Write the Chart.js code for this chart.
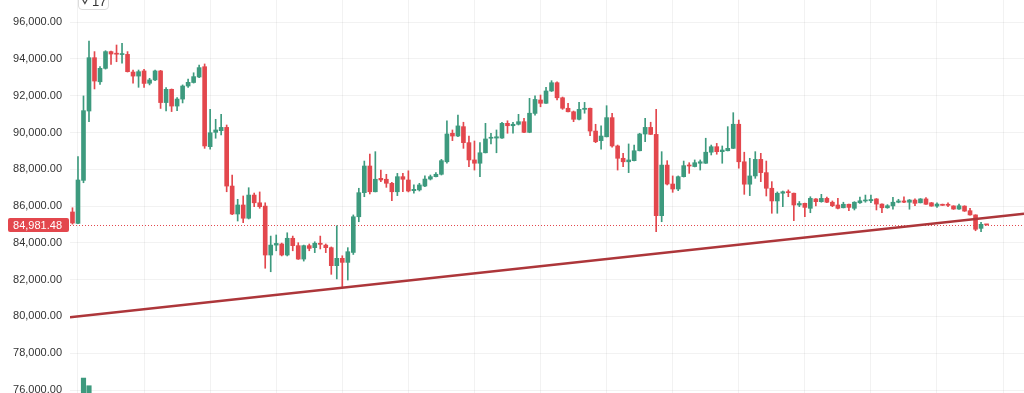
<!DOCTYPE html>
<html>
<head>
<meta charset="utf-8">
<title>Candles</title>
<script src="https://cdn.jsdelivr.net/npm/chart.js@4.4.1/dist/chart.umd.min.js"></script>
<style>
  html, body { margin: 0; padding: 0; background: #fff; }
  #wrap { position: relative; width: 1024px; height: 393px; overflow: hidden; }
  .badge {
    position: absolute; left: 78px; top: -14px; width: 31px; height: 24px;
    box-sizing: border-box; border: 1px solid #dcdcdc; border-radius: 4px; background: #fff;
  }
  .badge svg { position: absolute; left: 2px; top: 10px; }
  .badge span {
    position: absolute; left: 13px; top: 8px; font: 13px "Liberation Sans", Arial, sans-serif;
    line-height: 13px; color: #333;
  }
</style>
</head>
<body>
<div id="wrap">
  <canvas id="candles"></canvas>
  <div class="badge">
    <svg width="8" height="8" viewBox="0 0 8 8"><polyline points="0.8,1 3.9,6.5 7,1" fill="none" stroke="#444" stroke-width="1.2"/></svg>
    <span>17</span>
  </div>
</div>
<script>
// OHLC per candle, oldest first
const open = [
  85680, 85060, 87400, 91170, 94070, 92760, 93490, 94400, 94280, 94240,
  94250, 93290, 93070, 93350, 92680, 92860, 93350, 91630, 92350, 91440,
  91820, 92530, 92720, 93020, 93580, 89230, 90010, 90100, 90280, 87090,
  85570, 86060, 85340, 86600, 86180, 86000, 83340, 83880, 83940, 83340,
  84250, 83850, 83120, 83850, 83740, 83980, 83880, 83740, 82760, 83160,
  82940, 83480, 85420, 86730, 88180, 86780, 87510, 87460, 87240, 86780,
  87600, 87420, 86840, 86880, 87090, 87470, 87600, 87730, 88410, 89960,
  89810, 90320, 89450, 88510, 88330, 88900, 89690, 89700, 89700, 90500,
  90370, 90450, 90590, 90010, 91040, 91770, 91590, 92260, 92710, 91890,
  91320, 91130, 90720, 91260, 91320, 90080, 89560, 89770, 90810, 89270,
  88600, 88410, 88470, 89010, 89920, 90280, 89900, 85480, 88230, 87200,
  86930, 87600, 88230, 88150, 88330, 88330, 88930, 89230, 88960, 89010,
  89140, 90450, 88410, 87190, 87640, 88540, 87820, 86970, 86280, 86700,
  86780, 86700, 86060, 86150, 85880, 86390, 86240, 86420, 86210, 86060,
  85910, 86100, 85880, 86180, 86280, 86290, 86390, 86110, 85910, 86010,
  86210, 86280, 86210, 86330, 86180, 86390, 86180, 86000, 86100, 86100,
  86010, 85840, 86000, 85750, 85520, 84790, 85000
];
const high = [
  85910, 88690, 91990, 94980, 94400, 93580, 94450, 94430, 94760, 94850,
  94400, 93400, 93400, 93440, 92950, 93400, 93380, 92450, 92370, 91900,
  92590, 92910, 93250, 93670, 93730, 91260, 90720, 90990, 90410, 87690,
  86370, 86550, 87000, 86710, 86770, 86180, 84370, 84430, 83990, 84550,
  84370, 84010, 83880, 83940, 84060, 84370, 83940, 83780, 84930, 83300,
  83740, 85520, 86970, 88450, 88830, 88960, 87960, 87730, 87290, 87780,
  87780, 87920, 87150, 87240, 87640, 87690, 87820, 88540, 90630, 90140,
  90950, 90560, 89810, 89540, 89450, 90500, 89960, 90140, 90560, 90640,
  90560, 90990, 90770, 91860, 91990, 92040, 92460, 92820, 92760, 91930,
  91590, 91170, 91640, 91640, 91330, 90450, 90360, 91460, 91050, 89320,
  88870, 89380, 89320, 89960, 90770, 90560, 91260, 88960, 88470, 87640,
  87640, 88450, 88360, 88510, 88510, 89690, 89320, 89410, 89270, 90320,
  91080, 90680, 88930, 88600, 88960, 88870, 88450, 87330, 86770, 86820,
  86880, 86710, 86250, 86170, 86510, 86410, 86640, 86490, 86280, 86420,
  86210, 86110, 86240, 86490, 86600, 86600, 86410, 86120, 86080, 86480,
  86370, 86510, 86360, 86390, 86410, 86460, 86200, 86180, 86110, 86180,
  86020, 86110, 86020, 85880, 85530, 85120, 85010
];
const low = [
  85020, 85050, 87270, 90590, 92370, 92620, 93450, 93710, 93850, 93770,
  93290, 92690, 92460, 92450, 92590, 92820, 91310, 91170, 91140, 91190,
  91610, 92460, 92690, 92990, 89140, 89090, 89690, 89870, 86780, 85540,
  85190, 85100, 85300, 85970, 85880, 82620, 82430, 83570, 83290, 83290,
  83570, 83100, 83010, 83570, 83470, 83670, 83470, 82290, 82040, 81550,
  81980, 83370, 85150, 86510, 86660, 86770, 87330, 87020, 86290, 86570,
  86780, 86770, 86700, 86820, 87050, 87420, 87580, 87690, 88330, 89560,
  89780, 89140, 88140, 87960, 87600, 88890, 89380, 88900, 89680, 89960,
  89960, 90410, 89990, 89990, 90950, 91400, 91580, 92230, 91770, 91260,
  91120, 90590, 90680, 91050, 89830, 89450, 89090, 89760, 89200, 87960,
  88140, 87820, 88450, 89000, 89500, 89890, 84610, 85150, 87150, 86750,
  86840, 87580, 87780, 88130, 87960, 88320, 88780, 88820, 88330, 89000,
  89130, 88060, 86640, 86570, 87510, 87330, 86550, 85610, 85610, 85970,
  86510, 85210, 85970, 85420, 85640, 86010, 86210, 86180, 85970, 85840,
  85900, 85750, 85790, 86150, 86210, 86180, 85790, 85640, 85880, 85830,
  86180, 86190, 85830, 86020, 86170, 86090, 85990, 85930, 86030, 85970,
  85820, 85820, 85710, 85500, 84660, 84610, 84960
];
const close = [
  85080, 87420, 91190, 94070, 92800, 93490, 94400, 94270, 94260, 94270,
  93310, 93070, 93310, 92670, 92860, 93350, 91630, 92350, 91440, 91820,
  92530, 92730, 93040, 93530, 89270, 89990, 90140, 90280, 87090, 85570,
  86060, 85340, 86600, 86180, 85970, 83340, 83880, 83970, 83340, 84250,
  83850, 83120, 83850, 83700, 83980, 83920, 83740, 82760, 83160, 82940,
  83520, 85420, 86730, 88180, 86780, 87460, 87420, 87240, 86780, 87600,
  87460, 86820, 86910, 87150, 87470, 87600, 87730, 88470, 89920, 89810,
  90360, 89450, 88510, 88330, 88900, 89650, 89740, 89770, 90500, 90370,
  90450, 90590, 90010, 91050, 91800, 91590, 92260, 92710, 91890, 91320,
  91130, 90720, 91260, 91320, 90080, 89500, 89810, 90810, 89270, 88600,
  88410, 88510, 89010, 89920, 90280, 89900, 85480, 88230, 87200, 86930,
  87600, 88200, 88180, 88360, 88410, 88930, 89230, 88960, 89050, 89140,
  90450, 88410, 87190, 87640, 88540, 87820, 86970, 86280, 86700, 86780,
  86730, 86060, 86140, 85930, 86420, 86240, 86420, 86210, 86020, 85880,
  86100, 85930, 86210, 86290, 86330, 86360, 86110, 85910, 86020, 86210,
  86280, 86210, 86330, 86150, 86390, 86100, 86000, 86110, 86040, 86040,
  85840, 86020, 85730, 85520, 84740, 85010, 84981.48
];

// volume bars that reach into view (bottom-left)
const volIndex = [2, 3];
const volume = [23800, 21850];

// trend line, drawn from the left edge to the right edge
const trendIndex = [-0.45, 172.8];
const trendPrice = [79950, 85590];

const yTicks = [76000, 78000, 80000, 82000, 84000, 86000, 88000, 90000, 92000, 94000, 96000];
const xGrid = [1, 13, 25, 37, 49, 61, 73, 85, 97, 109, 121, 133, 145, 157, 169];

const GREEN = '#3d9a7e';
const RED = '#e3474d';
const lastClose = close[close.length - 1];
const fmt = new Intl.NumberFormat('en-US', { minimumFractionDigits: 2, maximumFractionDigits: 2 });

const idx = close.map((_, i) => i);
const colors = idx.map(i => close[i] >= open[i] ? GREEN : RED);

const priceLine = {
  id: 'priceLine',
  beforeDatasetsDraw(chart) {
    const { ctx, chartArea } = chart;
    const y = Math.round(chart.scales.y.getPixelForValue(lastClose)) + 0.5;
    ctx.save();
    ctx.strokeStyle = RED;
    ctx.lineWidth = 1;
    ctx.setLineDash([1, 2]);
    ctx.beginPath();
    ctx.moveTo(chartArea.left, y);
    ctx.lineTo(chartArea.right, y);
    ctx.stroke();
    ctx.restore();
  },
  afterDraw(chart) {
    const { ctx } = chart;
    const y = chart.scales.y.getPixelForValue(lastClose);
    ctx.save();
    ctx.fillStyle = RED;
    ctx.beginPath();
    ctx.roundRect(8, Math.round(y) - 7, 61, 14, 2);
    ctx.fill();
    ctx.fillStyle = '#fff';
    ctx.font = '11px "Liberation Sans", Arial, sans-serif';
    ctx.textAlign = 'right';
    ctx.textBaseline = 'middle';
    ctx.fillText(fmt.format(lastClose), 62, Math.round(y) + 0.5);
    ctx.restore();
  }
};

const ctx = document.getElementById('candles').getContext('2d');
const chart = new Chart(ctx, {
  type: 'bar',
  data: {
    datasets: [
      {
        type: 'line',
        label: 'trend',
        data: trendIndex.map((x, i) => ({ x: x, y: trendPrice[i] })),
        borderColor: '#ad363a',
        borderWidth: 2.5,
        pointRadius: 0,
        order: 0
      },
      {
        label: 'body',
        data: idx.map(i => ({ x: i, y: [open[i], close[i]] })),
        backgroundColor: colors,
        grouped: false,
        barPercentage: 1,
        categoryPercentage: 1,
        maxBarThickness: 4,
        minBarLength: 1,
        order: 1
      },
      {
        label: 'wick',
        data: idx.map(i => ({ x: i, y: [low[i], high[i]] })),
        backgroundColor: colors,
        grouped: false,
        barPercentage: 1,
        categoryPercentage: 1,
        maxBarThickness: 1,
        order: 2
      },
      {
        label: 'volume',
        data: volIndex.map((x, i) => ({ x: x, y: volume[i] })),
        backgroundColor: GREEN,
        yAxisID: 'vol',
        grouped: false,
        barPercentage: 1,
        categoryPercentage: 1,
        maxBarThickness: 4.5,
        order: 3
      }
    ]
  },
  options: {
    responsive: true,
    maintainAspectRatio: false,
    animation: false,
    layout: { padding: 0 },
    plugins: { legend: { display: false }, tooltip: { enabled: false } },
    scales: {
      x: {
        type: 'linear',
        min: trendIndex[0],
        max: trendIndex[1],
        offset: false,
        grid: { color: 'rgba(0,0,0,0.05)', drawTicks: false, offset: false },
        border: { display: false },
        ticks: { display: false },
        afterBuildTicks: s => { s.ticks = xGrid.map(v => ({ value: v })); },
        afterFit: s => { s.height = 0; }
      },
      y: {
        position: 'left',
        min: 75837,
        max: 97207,
        beginAtZero: false,
        grid: { color: 'rgba(0,0,0,0.05)', drawTicks: false },
        border: { display: false },
        ticks: {
          padding: 8,
          color: '#333',
          font: { family: '"Liberation Sans", Arial, sans-serif', size: 11 },
          callback: v => fmt.format(v)
        },
        afterBuildTicks: s => { s.ticks = yTicks.map(v => ({ value: v })); },
        afterFit: s => { s.width = 70; s.paddingTop = 0; s.paddingBottom = 0; }
      },
      vol: {
        display: false,
        min: 20000,
        max: 120000
      }
    }
  },
  plugins: [priceLine]
});
</script>
</body>
</html>
